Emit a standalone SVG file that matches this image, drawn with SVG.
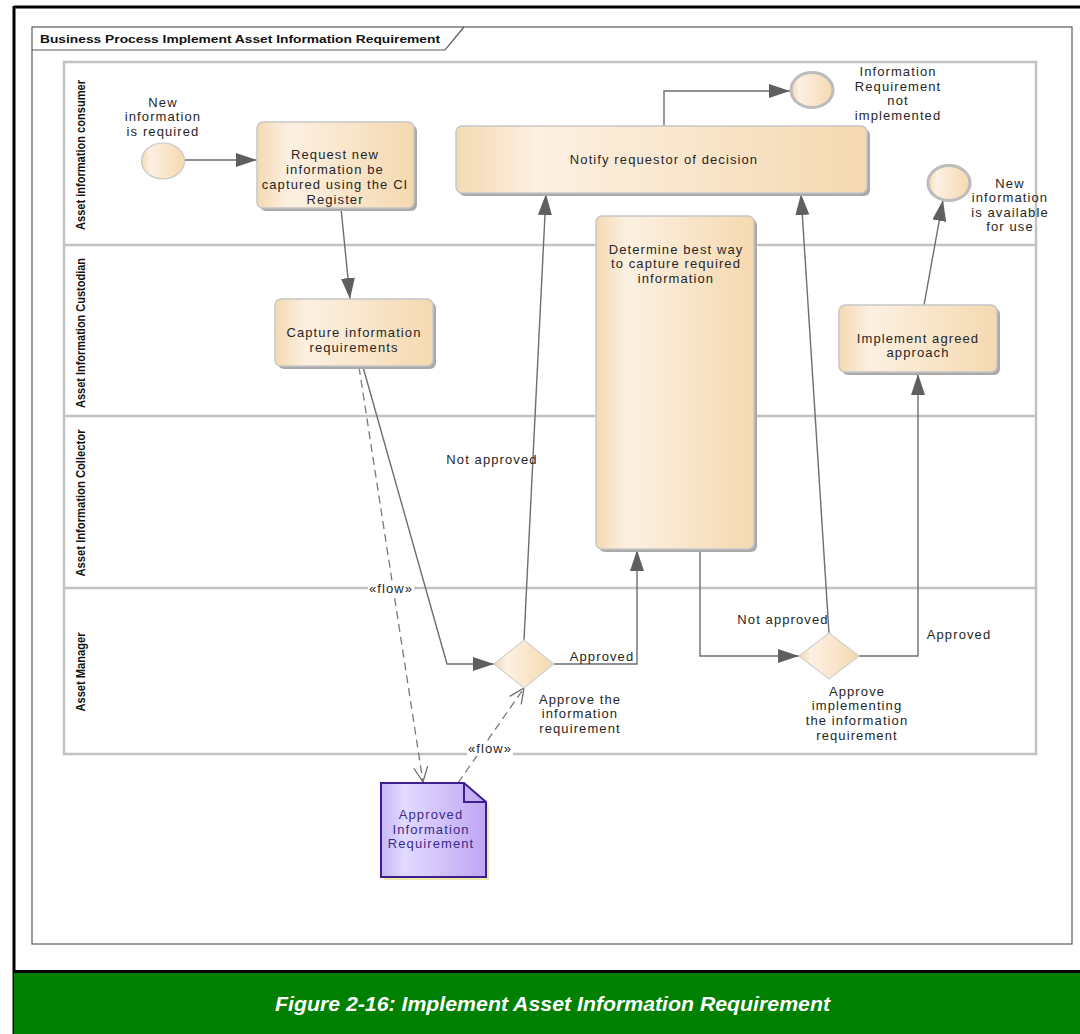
<svg xmlns="http://www.w3.org/2000/svg" width="1080" height="1034" viewBox="0 0 1080 1034">
  <defs>
    <style>
      .lbl { font-family: "Liberation Sans", Arial, sans-serif; font-size: 13px; letter-spacing: 1.1px; fill: #262626; text-anchor: middle; }
      .lane-name { font-family: "Liberation Sans", Arial, sans-serif; font-size: 12px; font-weight: bold; fill: #111; text-anchor: middle; }
      .lane { fill: none; stroke: #c2c2c2; stroke-width: 2.5; }
      .flow { fill: none; stroke: #6e6e6e; stroke-width: 1.4; }
      .dep { fill: none; stroke: #7a7a7a; stroke-width: 1.3; stroke-dasharray: 8 5; }
      .act { fill: url(#actFill); stroke: #c6c6c6; stroke-width: 1.5; }
      .shadow { fill: #a9a9a9; }
      .gate { fill: url(#actFill); stroke: #d2d2d2; stroke-width: 1.2; }
      .evt-start { fill: url(#actFill); stroke: #c8c8c8; stroke-width: 1.2; }
      .evt-end { fill: url(#actFill); stroke: #bdbdbd; stroke-width: 3.2; }
      .doc-text { fill: #3b2a8c; }
    </style>
    <linearGradient id="actFill" x1="0" y1="0" x2="1" y2="0">
      <stop offset="0" stop-color="#f4d9b2"/>
      <stop offset="0.2" stop-color="#fcf0e2"/>
      <stop offset="1" stop-color="#f5d9b0"/>
    </linearGradient>
    <linearGradient id="docFill" x1="0" y1="0" x2="1" y2="0">
      <stop offset="0" stop-color="#c6b4f6"/>
      <stop offset="0.22" stop-color="#e2daff"/>
      <stop offset="1" stop-color="#bfa6f4"/>
    </linearGradient>
    <marker id="arrow" markerUnits="userSpaceOnUse" markerWidth="22" markerHeight="14" refX="21" refY="7" orient="auto">
      <path d="M0,0 L21,7 L0,14 z" fill="#5f5f5f"/>
    </marker>
    <marker id="open" markerUnits="userSpaceOnUse" markerWidth="18" markerHeight="16" refX="16" refY="8" orient="auto">
      <path d="M1,1 L16,8 L1,15" fill="none" stroke="#6e6e6e" stroke-width="1.3"/>
    </marker>
  </defs>

  <!-- page -->
  <rect x="0" y="0" width="1080" height="1034" fill="#ffffff"/>
  <g id="page">
    <line x1="14" y1="7" x2="1080" y2="7" stroke="#000" stroke-width="3"/>
    <line x1="14" y1="6" x2="14" y2="1034" stroke="#000" stroke-width="3"/>
    <rect x="14" y="973" width="1066" height="61" fill="#008000"/>
    <line x1="14" y1="971.5" x2="1080" y2="971.5" stroke="#000" stroke-width="3"/>
    <text x="275" y="1011" font-family="'Liberation Sans', Arial, sans-serif" font-size="21" font-weight="bold" font-style="italic" fill="#ffffff" textLength="555" lengthAdjust="spacingAndGlyphs">Figure 2-16: Implement Asset Information Requirement</text>
  </g>

  <!-- diagram frame with title tab -->
  <g id="frame">
    <rect x="32" y="27" width="1040" height="917" fill="none" stroke="#5a5a5a" stroke-width="1.2"/>
    <path d="M32,50 L445,50 L464,27" fill="none" stroke="#5a5a5a" stroke-width="1.2"/>
    <text x="40" y="42.5" font-family="'Liberation Sans', Arial, sans-serif" font-size="11.5" font-weight="bold" fill="#111" textLength="400" lengthAdjust="spacingAndGlyphs">Business Process Implement Asset Information Requirement</text>
  </g>

  <!-- swimlanes -->
  <g id="lanes">
    <rect class="lane" x="64" y="62" width="972" height="692"/>
    <line class="lane" x1="64" y1="245" x2="1036" y2="245"/>
    <line class="lane" x1="64" y1="416" x2="1036" y2="416"/>
    <line class="lane" x1="64" y1="588" x2="1036" y2="588"/>
    <text class="lane-name" transform="translate(84.5,155) rotate(-90)" textLength="150" lengthAdjust="spacingAndGlyphs">Asset information consumer</text>
    <text class="lane-name" transform="translate(84.5,333) rotate(-90)" textLength="150" lengthAdjust="spacingAndGlyphs">Asset Information Custodian</text>
    <text class="lane-name" transform="translate(84.5,503) rotate(-90)" textLength="147" lengthAdjust="spacingAndGlyphs">Asset Information Collector</text>
    <text class="lane-name" transform="translate(84.5,672) rotate(-90)" textLength="79" lengthAdjust="spacingAndGlyphs">Asset Manager</text>
  </g>

  <!-- connectors -->
  <g id="connectors">
    <path class="flow" d="M185,160 L257,160" marker-end="url(#arrow)"/>
    <path class="flow" d="M341,208 L350,299" marker-end="url(#arrow)"/>
    <path class="flow" d="M363,367 L447,664 L494,664" marker-end="url(#arrow)"/>
    <path class="flow" d="M554,664 L637,664 L637,550" marker-end="url(#arrow)"/>
    <path class="flow" d="M524,640 L546,194" marker-end="url(#arrow)"/>
    <path class="flow" d="M700,550 L700,656 L799,656" marker-end="url(#arrow)"/>
    <path class="flow" d="M829,633 L801,194" marker-end="url(#arrow)"/>
    <path class="flow" d="M859,656 L918,656 L918,374" marker-end="url(#arrow)"/>
    <path class="flow" d="M924,305 L943,200" marker-end="url(#arrow)"/>
    <path class="flow" d="M664,126 L664,91 L790,91" marker-end="url(#arrow)"/>

    <path class="dep" d="M359,367 L423,782" marker-end="url(#open)"/>
    <path class="dep" d="M458,783 L524,688" marker-end="url(#open)"/>

    <rect x="368" y="581" width="46" height="15" fill="#ffffff"/>
    <text class="lbl" x="391" y="592.5" letter-spacing="0.6">«flow»</text>
    <rect x="467" y="741" width="46" height="15" fill="#ffffff"/>
    <text class="lbl" x="490" y="752.5" letter-spacing="0.6">«flow»</text>

    <text class="lbl" x="492" y="463.5">Not approved</text>
    <text class="lbl" x="602" y="660.5">Approved</text>
    <text class="lbl" x="783" y="623.5">Not approved</text>
    <text class="lbl" x="959" y="638.5">Approved</text>
  </g>

  <!-- start event -->
  <g id="start-new-info">
    <ellipse class="evt-start" cx="163" cy="161" rx="21.5" ry="18"/>
    <text class="lbl" x="163" y="106.5">New</text>
    <text class="lbl" x="163" y="121">information</text>
    <text class="lbl" x="163" y="135.5">is required</text>
  </g>

  <!-- request task -->
  <g id="task-request">
    <rect class="shadow" x="260" y="125" width="157" height="86" rx="6"/>
    <rect class="act" x="257" y="122" width="157" height="86" rx="6"/>
    <text class="lbl" x="335" y="158.5">Request new</text>
    <text class="lbl" x="335" y="173.5">information be</text>
    <text class="lbl" x="335" y="188.5">captured using the CI</text>
    <text class="lbl" x="335" y="203.5">Register</text>
  </g>

  <!-- notify task -->
  <g id="task-notify">
    <rect class="shadow" x="459" y="129" width="411" height="67" rx="6"/>
    <rect class="act" x="456" y="126" width="411" height="67" rx="6"/>
    <text class="lbl" x="664" y="163.5">Notify requestor of decision</text>
  </g>

  <!-- end event: not implemented -->
  <g id="end-not-implemented">
    <ellipse class="evt-end" cx="812" cy="90" rx="21" ry="17.5"/>
    <text class="lbl" x="898" y="75.5">Information</text>
    <text class="lbl" x="898" y="90.5">Requirement</text>
    <text class="lbl" x="898" y="105">not</text>
    <text class="lbl" x="898" y="119.5">implemented</text>
  </g>

  <!-- end event: available -->
  <g id="end-available">
    <ellipse class="evt-end" cx="949" cy="183" rx="21" ry="17.5"/>
    <text class="lbl" x="1010" y="187.5">New</text>
    <text class="lbl" x="1010" y="202">information</text>
    <text class="lbl" x="1010" y="216.5">is available</text>
    <text class="lbl" x="1010" y="231">for use</text>
  </g>

  <!-- capture task -->
  <g id="task-capture">
    <rect class="shadow" x="278" y="302" width="158" height="67" rx="6"/>
    <rect class="act" x="275" y="299" width="158" height="67" rx="6"/>
    <text class="lbl" x="354" y="336.5">Capture information</text>
    <text class="lbl" x="354" y="351.5">requirements</text>
  </g>

  <!-- determine task -->
  <g id="task-determine">
    <rect class="shadow" x="599" y="219" width="158" height="333" rx="6"/>
    <rect class="act" x="596" y="216" width="158" height="333" rx="6"/>
    <text class="lbl" x="676" y="253.5">Determine best way</text>
    <text class="lbl" x="676" y="268">to capture required</text>
    <text class="lbl" x="676" y="282.5">information</text>
  </g>

  <!-- implement task -->
  <g id="task-implement">
    <rect class="shadow" x="842" y="308" width="158" height="67" rx="6"/>
    <rect class="act" x="839" y="305" width="158" height="67" rx="6"/>
    <text class="lbl" x="918" y="342.5">Implement agreed</text>
    <text class="lbl" x="918" y="356.5">approach</text>
  </g>

  <!-- gateway: approve requirement -->
  <g id="gw-approve-req">
    <path class="gate" d="M524,640 L554,664 L524,688 L494,664 z"/>
    <text class="lbl" x="580" y="703.5">Approve the</text>
    <text class="lbl" x="580" y="718">information</text>
    <text class="lbl" x="580" y="732.5">requirement</text>
  </g>

  <!-- gateway: approve implementing -->
  <g id="gw-approve-impl">
    <path class="gate" d="M829,633 L859,656 L829,679 L799,656 z"/>
    <text class="lbl" x="857" y="695.5">Approve</text>
    <text class="lbl" x="857" y="710">implementing</text>
    <text class="lbl" x="857" y="724.5">the information</text>
    <text class="lbl" x="857" y="739.5">requirement</text>
  </g>

  <!-- data object -->
  <g id="doc-approved-req">
    <path d="M384,786 L467,786 L489,805 L489,880 L384,880 z" fill="#efeaa6"/>
    <path d="M381,783 L464,783 L486,802 L486,877 L381,877 z" fill="url(#docFill)" stroke="#3d1e8e" stroke-width="2"/>
    <path d="M464,783 L464,802 L486,802" fill="none" stroke="#3d1e8e" stroke-width="2"/>
    <text class="lbl doc-text" x="431" y="818.5">Approved</text>
    <text class="lbl doc-text" x="431" y="833.5">Information</text>
    <text class="lbl doc-text" x="431" y="847.5">Requirement</text>
  </g>
</svg>
